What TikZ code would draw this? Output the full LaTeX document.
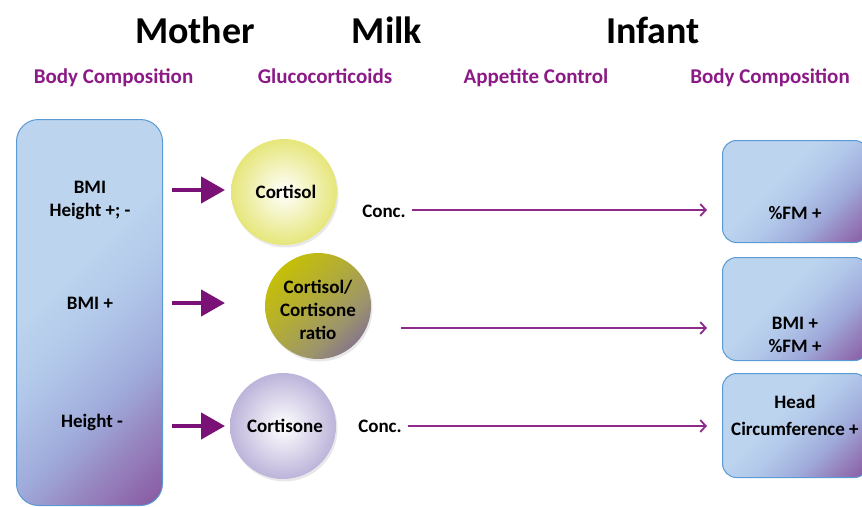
\documentclass[tikz,border=0pt]{standalone}
\usepackage{fontspec}
\setmainfont{Carlito}
\usetikzlibrary{arrows.meta,shadows}
\definecolor{bxL}{HTML}{BCD4EE}
\definecolor{bxL2}{HTML}{B2C8EA}
\definecolor{bxM}{HTML}{9FAADA}
\definecolor{bxM2}{HTML}{9580BC}
\definecolor{bxP}{HTML}{8A5CA4}
\definecolor{bxEdge}{HTML}{5B9BD5}
\definecolor{ylw}{HTML}{E6E67A}
\definecolor{olive}{HTML}{C8C200}
\definecolor{olmid}{HTML}{B2AC38}
\definecolor{olgr}{HTML}{9C946C}
\definecolor{grpu}{HTML}{7E6A94}
\definecolor{lav}{HTML}{BDB4DA}
\definecolor{arrP}{HTML}{7A1176}
\definecolor{thinP}{HTML}{8E2A8C}
\definecolor{subP}{HTML}{8B1A87}
\pgfdeclareverticalshading{boxshade}{100bp}{color(0bp)=(bxP); color(16bp)=(bxP); color(25bp)=(bxM2); color(35bp)=(bxM); color(48bp)=(bxL2); color(58bp)=(bxL); color(100bp)=(bxL)}
\pgfdeclareverticalshading{ratioshade}{100bp}{color(0bp)=(grpu); color(20bp)=(grpu); color(36bp)=(olgr); color(55bp)=(olmid); color(78bp)=(olive); color(100bp)=(olive)}
\tikzset{
  bodytxt/.style={font=\bfseries\fontsize{19}{23}\selectfont, align=center, inner sep=0pt},
  titletxt/.style={font=\bfseries\fontsize{38}{40}\selectfont, inner sep=0pt, anchor=base},
  subtxt/.style={font=\bfseries\fontsize{21}{24}\selectfont, text=subP, inner sep=0pt, anchor=base},
  bluebox/.style={draw=bxEdge, line width=1pt, shading=boxshade, shading angle=45, inner sep=0pt},
  blob/.style={circle, minimum size=106pt, inner sep=0pt,
    drop shadow={opacity=0.18, shadow xshift=1.5pt, shadow yshift=-2.5pt}},
  fatarrow/.style={draw=arrP, line width=4.5pt, -{Triangle[length=24pt,width=26pt]}},
  thinarrow/.style={draw=thinP, line width=1.8pt, -{Straight Barb[length=5.5pt,width=12pt]}},
}
\begin{document}
\begin{tikzpicture}[x=1pt,y=-1pt]
\useasboundingbox (0,0) rectangle (862,506);
\clip (0,0) rectangle (862,506);
% titles
\node[titletxt] (tMother) at (195,43) {Mother};
\node[titletxt] (tMilk) at (387,43) {Milk};
\node[titletxt] (tInfant) at (653,43) {Infant};
\node[subtxt] (sBC1) at (113.5,83) {Body Composition};
\node[subtxt] (sGC) at (325,83) {Glucocorticoids};
\node[subtxt] (sAC) at (536,83) {Appetite Control};
\node[subtxt] (sBC2) at (770,83) {Body Composition};
% mother box
\node[bluebox, rounded corners=22pt, minimum width=146pt, minimum height=386pt, anchor=north west] (mom) at (16,119) {};
\node[bodytxt] (m1) at (90,200) {BMI\\Height +; -};
\node[bodytxt] (m2) at (90,303) {BMI +};
\node[bodytxt] (m3) at (92,422) {Height -};
% milk circles
\node[blob, inner color=white, outer color=ylw] (cortisol) at (284,192) {};
\node[bodytxt] (cortisolT) at (286,192) {Cortisol};
\node[blob, shading=ratioshade, shading angle=45] (ratio) at (318,306) {};
\node[bodytxt, text width=100pt] (ratioT) at (318,310) {Cortisol/\\Cortisone\\ratio};
\node[blob, inner color=white, outer color=lav] (cortisone) at (283,426) {};
\node[bodytxt] (cortisoneT) at (285,426) {Cortisone};
% infant boxes
\node[bluebox, rounded corners=14pt, minimum width=146pt, minimum height=102pt, anchor=north west] (inf1) at (722,140) {};
\node[bluebox, rounded corners=14pt, minimum width=146pt, minimum height=103pt, anchor=north west] (inf2) at (722,257) {};
\node[bluebox, rounded corners=14pt, minimum width=146pt, minimum height=104pt, anchor=north west] (inf3) at (722,373) {};
\node[bodytxt] (i1) at (795,213) {\%FM +};
\node[bodytxt] (i2) at (795,335) {BMI +\\\%FM +};
\node[bodytxt, font=\bfseries\fontsize{19}{27}\selectfont] (i3) at (795,415) {Head\\Circumference +};
% labels
\node[bodytxt] (conc1) at (384,211) {Conc.};
\node[bodytxt] (conc2) at (380,426) {Conc.};
\coordinate (a1s) at (172,190);
\coordinate (a1e) at (225,190);
\coordinate (a2s) at (172,303);
\coordinate (a2e) at (225,303);
\coordinate (a3s) at (172,426);
\coordinate (a3e) at (225,426);
\coordinate (t2s) at (401,328);
% fat arrows
\draw[fatarrow] (a1s) -- (a1e);
\draw[fatarrow] (a2s) -- (a2e);
\draw[fatarrow] (a3s) -- (a3e);
% thin arrows
\draw[thinarrow, shorten <=6pt, shorten >=15pt] (conc1.east |- 0,210) -- (inf1.west |- 0,210);
\draw[thinarrow, shorten >=15pt] (t2s) -- (inf2.west |- t2s);
\draw[thinarrow, shorten <=6pt, shorten >=15pt] (conc2.east) -- (inf3.west |- conc2.east);
\end{tikzpicture}
\end{document}
